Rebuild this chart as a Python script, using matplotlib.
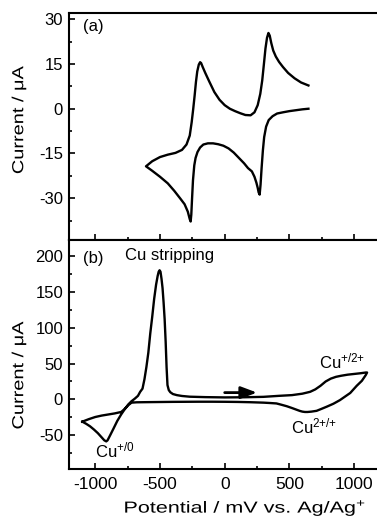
import numpy as np
import matplotlib
matplotlib.use('Agg')
import matplotlib.pyplot as plt
from matplotlib import patheffects
from matplotlib.transforms import Affine2D
from matplotlib.ticker import MultipleLocator

plt.rcParams['font.family'] = ['Liberation Sans', 'DejaVu Sans']
plt.rcParams['mathtext.default'] = 'regular'
plt.rcParams['axes.unicode_minus'] = False

# panel (a): potential in mV, current in uA (cathodic sweep then anodic sweep)
E_a = [647, 600, 550, 500, 450, 405, 370, 340, 320, 305, 295, 285, 277, 270, 262, 255,
       245, 230, 210, 180, 150, 110, 70, 30, -10, -50, -90, -130, -165, -190, -210,
       -225, -235, -245, -252, -258, -263, -270, -285, -310, -345, -390, -440, -500,
       -560, -608,
       -560, -500, -440, -380, -330, -295, -270, -255, -243, -232, -222, -212, -200,
       -190, -182, -170, -150, -120, -80, -40, 0, 40, 80, 120, 160, 200, 230, 255,
       275, 290, 303, 315, 327, 338, 348, 360, 375, 395, 420, 450, 490, 540, 590, 647]
I_a = [0, -0.2, -0.5, -0.8, -1.2, -1.6, -2.5, -3.8, -6, -9.5, -14, -20, -25.5, -28.8,
       -28, -26.5, -24.8, -22.8, -21, -19.9, -18.3, -16.5, -14.7, -13.3, -12.4, -11.9,
       -11.6, -11.6, -12, -13, -14.5, -16.5, -19, -24, -30, -35.5, -37.8, -37, -34.5,
       -32, -30, -27.5, -25, -22.8, -20.8, -19.3,
       -17.6, -16.2, -15.4, -14.8, -13.8, -12, -9, -4.5, 0, 4.5, 9, 12.5, 14.8, 15.6,
       15.3, 14, 12, 9.2, 5.6, 3, 1.2, 0, -0.8, -1.5, -2.1, -2.2, -1.2, 1.2, 5, 9.5,
       15, 20.2, 23.8, 25.4, 24.5, 22, 19.5, 17.5, 15.7, 14, 12, 10.2, 8.8, 7.8]

# panel (b): anodic sweep from -1100 mV, then cathodic sweep back
E_b = [-1100, -1050, -1000, -950, -900, -850, -800, -770, -745, -720, -695, -670, -653,
       -635, -620, -605, -590, -575, -560, -545, -530, -518, -510, -503, -496, -488,
       -480, -472, -464, -456, -449, -442, -432, -420, -400, -370, -330, -270, -150,
       0, 150, 300, 420, 520, 600, 660, 700, 740, 780, 820, 860, 900, 950, 1000,
       1050, 1090, 1100,
       1090, 1060, 1020, 970, 930, 890, 840, 790, 750, 710, 670, 640, 620, 600, 580,
       550, 520, 480, 440, 400, 350, 300, 200, 100, 0, -100, -200, -300, -400, -500,
       -600, -680, -720, -745, -770, -800, -830, -860, -885, -905, -915, -930, -950,
       -980, -1010, -1040, -1070, -1100]
I_b = [-31, -27.5, -24.5, -22.5, -21, -19.5, -17.5, -13, -7, -2.5, 1, 5, 10.6,
       15, 28, 45, 65, 92, 115, 140, 160, 172, 178, 180, 178, 168,
       155, 135, 112, 80, 45, 20, 13, 10, 7.5, 6, 4.8, 3.8, 3.2,
       2.8, 3, 3.6, 5, 6, 8, 10.6, 14, 19, 25, 29, 31.5, 33, 34.5, 35.5,
       36.5, 37.5, 37.5,
       34, 26, 19, 9, 4, -1, -6, -10, -13, -15.9, -17, -17.5, -17.5, -17, -16,
       -14, -12, -9.5, -7.5, -5.6, -5, -4.5, -3.9, -3.5, -3.3, -3.2, -3.2, -3.3, -3.4, -3.6,
       -3.8, -4, -4.5, -8, -13, -21, -30, -41, -50, -57, -58.5, -57, -53,
       -47, -42, -37.5, -34, -31]


class Stretch(patheffects.AbstractPathEffect):
    # widen the glyphs along the text direction, about the text centre
    def __init__(self, sx):
        super().__init__()
        self.sx = sx

    def draw_path(self, renderer, gc, tpath, affine, rgbFace=None):
        ext = tpath.get_extents()
        cx = 0.5 * (ext.x0 + ext.x1)
        tr = Affine2D().translate(-cx, 0).scale(self.sx, 1).translate(cx, 0) + affine
        renderer.draw_path(gc, tpath, tr, rgbFace)


def style(ax):
    ax.tick_params(which='both', direction='in', top=False, right=False,
                   width=1.2, labelsize=12, pad=4.5)
    ax.tick_params(which='major', length=4.5)
    ax.tick_params(which='minor', length=2.5)
    for s in ax.spines.values():
        s.set_linewidth(1.5)
    ax.xaxis.set_major_locator(MultipleLocator(500))
    ax.xaxis.set_minor_locator(MultipleLocator(250))
    ax.set_xlim(-1200, 1200)


fig = plt.figure(figsize=(3.77, 5.19), dpi=100)
ax1 = fig.add_axes([0.184, 0.5376, 0.824, 0.4368])
ax2 = fig.add_axes([0.184, 0.0963, 0.824, 0.441])

ax1.plot(E_a, I_a, color='k', lw=1.7)
style(ax1)
ax1.set_ylim(-44, 32)
ax1.yaxis.set_major_locator(MultipleLocator(15))
ax1.yaxis.set_minor_locator(MultipleLocator(7.5))
ax1.tick_params(labelbottom=False)
ax1.set_ylabel('Current / μA', fontsize=11.5, path_effects=[Stretch(1.25)])
ax1.yaxis.set_label_coords(-0.139, 0.53)
ax1.text(-1092, 26, '(a)', fontsize=12)

ax2.plot(E_b, I_b, color='k', lw=1.7)
style(ax2)
ax2.tick_params(axis='x', pad=6, labelsize=12.5)
ax2.set_ylim(-97, 222)
ax2.yaxis.set_major_locator(MultipleLocator(50))
ax2.yaxis.set_minor_locator(MultipleLocator(25))
ax2.set_ylabel('Current / μA', fontsize=11.5, path_effects=[Stretch(1.25)])
ax2.yaxis.set_label_coords(-0.139, 0.41)
ax2.set_xlabel('Potential / mV vs. Ag/Ag$^{+}$', fontsize=11.5, path_effects=[Stretch(1.35)])
ax2.xaxis.set_label_coords(0.566, -0.127)

ax2.text(-1093, 190, '(b)', fontsize=12)
ax2.text(-429, 195, 'Cu stripping', fontsize=12, ha='center')
ax2.text(-1000, -81, 'Cu$^{{+}/0}$', fontsize=12)
ax2.text(511, -47.5, 'Cu$^{2{+}/{+}}$', fontsize=12)
ax2.text(730, 43, 'Cu$^{{+}/2{+}}$', fontsize=12)
ax2.annotate('', xy=(250, 9.5), xytext=(0, 9.5),
             arrowprops=dict(arrowstyle='-|>,head_length=0.8,head_width=0.3',
                             lw=2, color='k', shrinkA=0, shrinkB=0, mutation_scale=12))

fig.savefig('out.png', dpi=100)
